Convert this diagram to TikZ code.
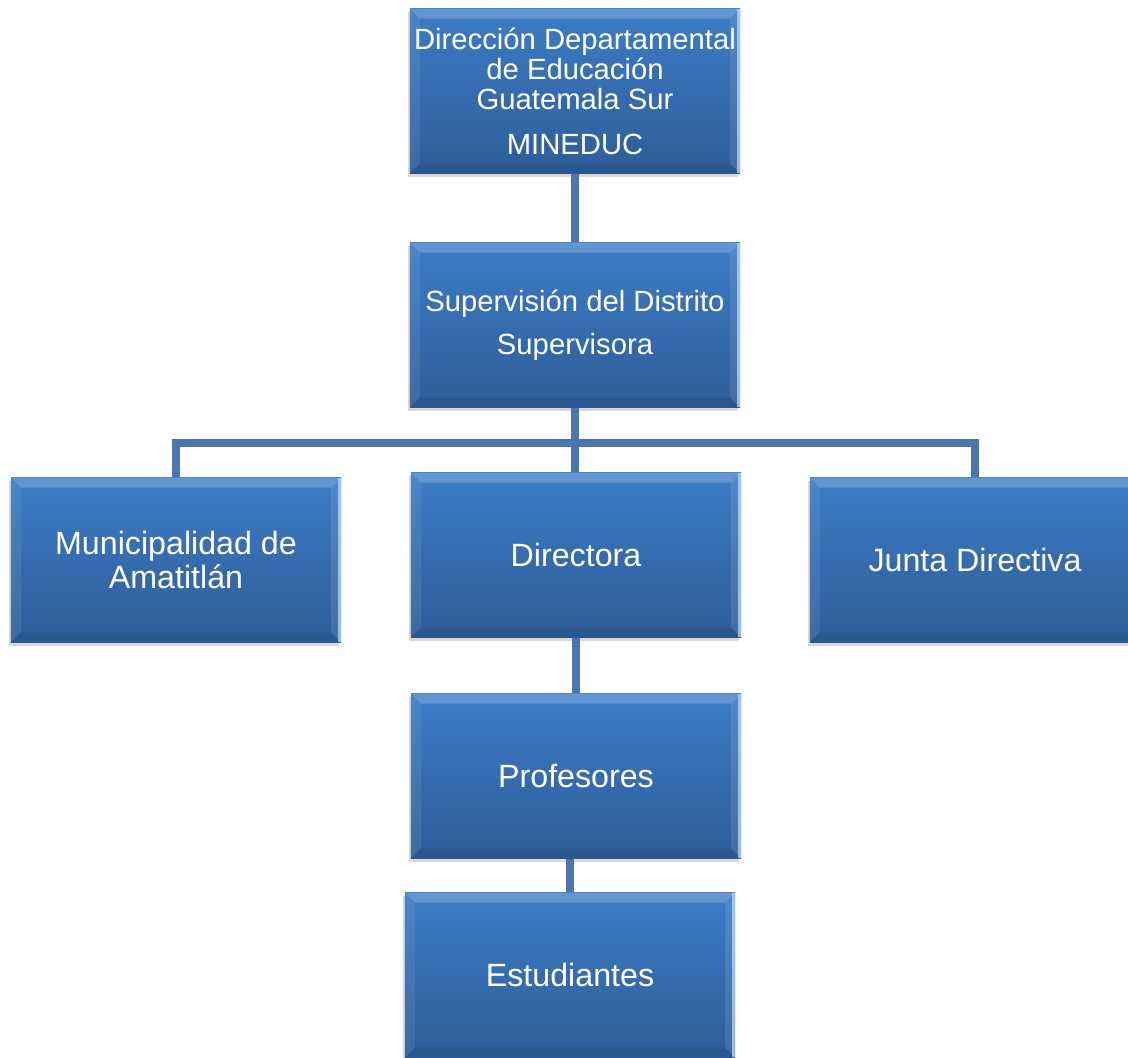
\documentclass[tikz,border=0pt]{standalone}
\usepackage{fontspec}
\setmainfont{Liberation Sans}
\usetikzlibrary{shadows}

\definecolor{boxtop}{HTML}{3D7CC7}
\definecolor{boxbot}{HTML}{2E5D98}
\definecolor{linkblue}{HTML}{4A76AC}
\definecolor{edgelight}{HTML}{BFE0FA}

\newcommand{\orgfont}{\fontsize{20.8pt}{21.6pt}\selectfont}
\newcommand{\orgbigfont}{\fontsize{22.9pt}{23.5pt}\selectfont}

\begin{document}
\begin{tikzpicture}[x=0.025cm,y=-0.025cm]
\tikzstyle{every node}+=[inner sep=0pt]
\tikzstyle{orgbox}=[top color=boxtop, bottom color=boxbot, text=white, align=center,
  font=\orgfont, minimum width=8.25cm, minimum height=4.12cm,
  drop shadow={shadow xshift=-0.05cm, shadow yshift=-0.08cm, opacity=0.3},
  path picture={
    \fill[white,opacity=0.2] (path picture bounding box.north west) -- (path picture bounding box.north east)
      -- ([shift={(-0.25cm,-0.25cm)}]path picture bounding box.north east) -- ([shift={(0.25cm,-0.25cm)}]path picture bounding box.north west) -- cycle;
    \fill[white,opacity=0.08] (path picture bounding box.north west) -- ([shift={(0.25cm,-0.25cm)}]path picture bounding box.north west)
      -- ([shift={(0.25cm,0.25cm)}]path picture bounding box.south west) -- (path picture bounding box.south west) -- cycle;
    \fill[black,opacity=0.07] (path picture bounding box.south west) -- (path picture bounding box.south east)
      -- ([shift={(-0.25cm,0.25cm)}]path picture bounding box.south east) -- ([shift={(0.25cm,0.25cm)}]path picture bounding box.south west) -- cycle;
    \fill[white,opacity=0.1] (path picture bounding box.north east) -- ([shift={(-0.25cm,-0.25cm)}]path picture bounding box.north east)
      -- ([shift={(-0.25cm,0.25cm)}]path picture bounding box.south east) -- (path picture bounding box.south east) -- cycle;
    \fill[edgelight,opacity=0.7] ([xshift=-0.08cm]path picture bounding box.north east) rectangle (path picture bounding box.south east);
  }]
\tikzstyle{bigbox}=[orgbox, font=\orgbigfont]
\tikzstyle{link}=[draw=linkblue, line width=0.2cm]

\useasboundingbox (0,0) rectangle (1128,1057);

% levels
\node[orgbox] (dde) at (575,91) {Dirección Departamental\\de Educación\\Guatemala Sur\\[10pt]MINEDUC};
\node[orgbox] (sup) at (575,325) {Supervisión del Distrito\\[9pt]Supervisora};
\node[bigbox] (mun) at (176,560) {Municipalidad de\\Amatitlán};
\node[bigbox] (dir) at (576,555) {Directora};
\node[bigbox] (jun) at (975,560) {Junta Directiva};
\node[bigbox] (pro) at (576,776) {Profesores};
\node[bigbox] (est) at (570,975) {Estudiantes};

\coordinate (bus) at (575,443);

% connectors
\draw[link] (dde.south) -- (sup.north);
\draw[link] (sup.south) -- (sup.south |- dir.north);
\draw[link] (bus) -| (mun.north);
\draw[link] (bus) -| (jun.north);
\draw[link] (dir.south) -- (pro.north);
\draw[link] (pro.south -| est.north) -- (est.north);
\end{tikzpicture}
\end{document}
